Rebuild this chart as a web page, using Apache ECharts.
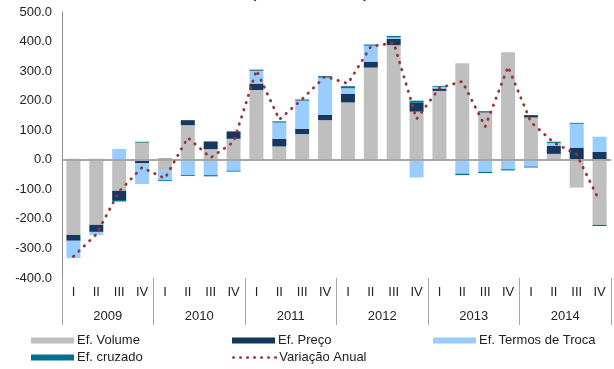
<!DOCTYPE html>
<html>
<head>
<meta charset="utf-8">
<script src="https://cdn.jsdelivr.net/npm/echarts@6/dist/echarts.min.js"></script>
<style>
  html, body { margin: 0; padding: 0; background: #fff; }
  #chart { width: 614px; height: 369px; }
</style>
</head>
<body>
<div id="chart"></div>
<script>
const quarters = ['I', 'II', 'III', 'IV', 'I', 'II', 'III', 'IV', 'I', 'II', 'III', 'IV',
  'I', 'II', 'III', 'IV', 'I', 'II', 'III', 'IV', 'I', 'II', 'III', 'IV']
const years = ['2009', '2010', '2011', '2012', '2013', '2014']

const efVolume = [-254, -220, -105, 58, -35, 117, 36, 71, 236, 45, 87, 134,
  194, 312, 388, 163, 233, 327, 160, 364, 143, 20, -94, -220]
const efPreco = [-20, -24, -31, -12, 4, 17, 26, 25, 22, 26, 18, 18,
  29, 20, 21, 31, 8, 0, 4, 0, 8, 27, 41, 27]
const efTermos = [-59, -11, 37, -70, -34, -52, -52, -37, 43, 55, 95, 126,
  19, 54, 5, -60, 6, -47, -41, -32, -23, 10, 81, 51]
const efCruzado = [3, 3, -5, 3, -3, -3, -4, -3, 4, 4, 4, 5,
  7, 4, 5, 6, 3, -5, -4, -4, -3, 4, 3, -4]
const variacaoAnual = [-327, -252, -107, -26, -63, 75, 7, 60, 303, 136, 205, 282,
  258, 383, 396, 138, 243, 265, 112, 315, 127, 58, 18, -140]

const font = "'Liberation Sans', Arial, sans-serif"
const txt = '#222'
const lineRed = '#983432'

const chart = echarts.init(document.getElementById('chart'))

const legendAt = (name, left, top) => {
  const isLine = name === 'Variação Anual'
  const lg = {
    data: [name],
    left: left,
    top: top,
    padding: 0,
    itemWidth: 43,
    itemHeight: 6,
    textStyle: { fontFamily: font, fontSize: 13, color: txt, padding: [0, 0, 0, -2] }
  }
  if (isLine) {
    // dotted line only, no marker in the middle
    lg.itemStyle = { opacity: 0 }
    lg.lineStyle = { color: lineRed, width: 2.6, type: [0.5, 6.5], cap: 'round' }
  } else {
    lg.icon = 'rect'
  }
  return lg
}

const bar = (name, data, color) => ({
  name: name,
  type: 'bar',
  stack: 'total',
  barWidth: 14,
  data: data,
  itemStyle: { color: color }
})

const options = {
  animation: false,
  title: {
    text: '(milhões de euros)',
    left: 252,
    top: -12,
    padding: 0,
    textStyle: { fontFamily: font, fontSize: 13, fontWeight: 'bold', color: txt }
  },
  legend: [
    legendAt('Ef. Volume', 31, 334),
    legendAt('Ef. Preço', 232, 334),
    legendAt('Ef. Termos de Troca', 433, 334),
    legendAt('Ef. cruzado', 31, 351),
    legendAt('Variação Anual', 232, 351)
  ],
  grid: { left: 62, right: 3, top: 12, bottom: 91 },
  xAxis: [
    {
      type: 'category',
      data: quarters,
      position: 'bottom',
      axisLine: { show: false, onZero: false },
      axisTick: { show: false },
      axisLabel: { interval: 0, margin: 8, fontFamily: font, fontSize: 13, color: txt }
    },
    {
      type: 'category',
      data: years,
      position: 'bottom',
      axisLine: { show: false, onZero: false },
      axisTick: { show: true, interval: 0, length: 47, lineStyle: { color: '#a6a6a6', width: 1 } },
      axisLabel: { interval: 0, margin: 32, fontFamily: font, fontSize: 13, color: txt }
    }
  ],
  yAxis: {
    type: 'value',
    min: -400,
    max: 500,
    interval: 100,
    splitLine: { show: false },
    axisTick: { show: false },
    axisLine: { show: true, lineStyle: { color: '#8c8c8c', width: 1 } },
    axisLabel: {
      margin: 10,
      fontFamily: font,
      fontSize: 13,
      color: txt,
      formatter: v => v.toFixed(1)
    }
  },
  series: [
    Object.assign(bar('Ef. Volume', efVolume, '#bfbfbf'), {
      markLine: {
        silent: true,
        symbol: 'none',
        label: { show: false },
        lineStyle: { color: '#a6a6a6', width: 2, type: 'solid' },
        data: [{ yAxis: 0 }]
      }
    }),
    bar('Ef. Preço', efPreco, '#17375e'),
    bar('Ef. Termos de Troca', efTermos, '#99ccff'),
    bar('Ef. cruzado', efCruzado, '#00708f'),
    {
      name: 'Variação Anual',
      type: 'line',
      data: variacaoAnual,
      symbol: 'none',
      z: 10,
      lineStyle: { color: lineRed, width: 2.8, type: [0.5, 7], cap: 'round' },
      itemStyle: { color: lineRed }
    }
  ]
}

chart.setOption(options)
</script>
</body>
</html>
